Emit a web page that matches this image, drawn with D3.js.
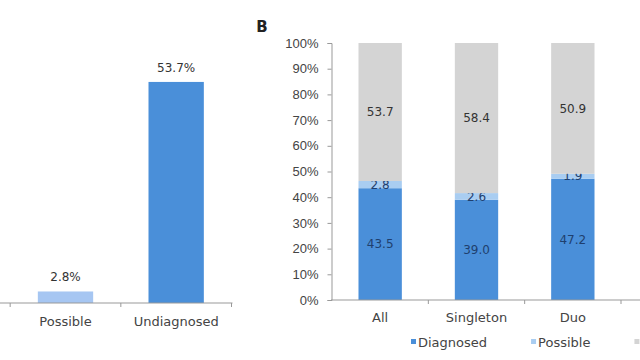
<!DOCTYPE html>
<html>
<head>
<meta charset="utf-8">
<script src="https://cdn.jsdelivr.net/npm/d3@7"></script>
<style>
body { margin: 0; background: #fff; }
svg { display: block; font-family: "DejaVu Sans", Arial, sans-serif; }
.tick text, .cat, .legend text { fill: #444; font-size: 13px; }
.val { font-size: 12px; }
</style>
</head>
<body>
<svg width="640" height="360"></svg>
<script>
// panel A data
const catsA = ["Diagnosed", "Possible", "Undiagnosed"]
const valsA = [43.5, 2.8, 53.7]

// panel B data
const catsB = ["All", "Singleton", "Duo"]
const diagnosed = [43.5, 39.0, 47.2]
const possible = [2.8, 2.6, 1.9]
const undiagnosed = [53.7, 58.4, 50.9]
const yTicksB = [0, 10, 20, 30, 40, 50, 60, 70, 80, 90, 100]
const legendLabels = ["Diagnosed", "Possible", "Undiagnosed"]

const colors = { diag: "#4a8fd9", poss: "#a9cdf1", und: "#d4d4d4" }

const svg = d3.select("svg")

//---------------- panel A
const xA = d3.scaleBand()
	.domain(catsA)
	.range([-100.5, 231.5])
	.paddingInner(0.5)
	.paddingOuter(0.25)

const yA = d3.scaleLinear()
	.domain([0, 60])
	.range([303, 56])

const gA = svg.append("g")

gA.selectAll("rect.barA")
	.data(catsA)
	.enter()
	.append("rect")
	.attr("class", "barA")
	.attr("x", d => xA(d))
	.attr("y", (d, i) => yA(valsA[i]))
	.attr("width", xA.bandwidth())
	.attr("height", (d, i) => yA(0) - yA(valsA[i]))
	.attr("fill", d => d == "Possible" ? "#a6c6f2" : colors.diag)

gA.selectAll("text.valA")
	.data(catsA)
	.enter()
	.append("text")
	.attr("class", "val")
	.attr("x", d => xA(d) + xA.bandwidth() / 2)
	.attr("y", (d, i) => yA(valsA[i]) - 10)
	.attr("text-anchor", "middle")
	.attr("fill", "#333")
	.text((d, i) => valsA[i].toFixed(1) + "%")

// baseline with ticks between bands
gA.append("line")
	.attr("x1", xA.range()[0]).attr("x2", xA.range()[1] + 1)
	.attr("y1", yA(0)).attr("y2", yA(0))
	.attr("stroke", "#999")

gA.selectAll("line.tickA")
	.data(catsA)
	.enter()
	.append("line")
	.attr("x1", d => xA(d) + xA.bandwidth() + xA.step() * xA.paddingInner() / 2)
	.attr("x2", d => xA(d) + xA.bandwidth() + xA.step() * xA.paddingInner() / 2)
	.attr("y1", yA(0)).attr("y2", yA(0) + 4)
	.attr("stroke", "#999")

gA.selectAll("text.catA")
	.data(catsA)
	.enter()
	.append("text")
	.attr("class", "cat")
	.attr("x", d => xA(d) + xA.bandwidth() / 2)
	.attr("y", yA(0) + 23)
	.attr("text-anchor", "middle")
	.text(d => d)

//---------------- panel B
const xB = d3.scaleBand()
	.domain(catsB)
	.range([332, 621])
	.paddingInner(0.55)
	.paddingOuter(0.275)

const yB = d3.scaleLinear()
	.domain([0, 100])
	.range([300, 43])

const stackData = catsB.map((c, i) => ({ cat: c, diag: diagnosed[i], poss: possible[i], und: undiagnosed[i] }))
const series = d3.stack().keys(["diag", "poss", "und"])(stackData)

svg.append("text")
	.attr("x", 262)
	.attr("y", 32)
	.attr("text-anchor", "middle")
	.attr("font-weight", "bold")
	.attr("font-size", "15px")
	.attr("fill", "#222")
	.text("B")

// y axis
svg.append("g")
	.attr("transform", "translate(331.5,0)")
	.call(d3.axisLeft(yB).tickValues(yTicksB).tickSize(4).tickFormat(d => d + "%"))
	.call(g => g.selectAll("path, line").attr("stroke", "#999"))
	.call(g => g.selectAll("text").attr("x", -13))

const layers = svg.selectAll("g.layer")
	.data(series)
	.enter()
	.append("g")
	.attr("class", "layer")
	.attr("fill", d => colors[d.key])

layers.selectAll("rect")
	.data(d => d)
	.enter()
	.append("rect")
	.attr("x", d => xB(d.data.cat))
	.attr("y", d => yB(d[1]))
	.attr("width", xB.bandwidth())
	.attr("height", d => yB(d[0]) - yB(d[1]))

layers.selectAll("text")
	.data(d => d.map(p => ({ p: p, key: d.key })))
	.enter()
	.append("text")
	.attr("class", "val")
	.attr("x", d => xB(d.p.data.cat) + xB.bandwidth() / 2)
	.attr("y", d => yB((d.p[0] + d.p[1]) / 2))
	.attr("dy", "0.35em")
	.attr("text-anchor", "middle")
	.attr("fill", d => d.key == "und" ? "#333" : "#1f3f6e")
	.text(d => d.p.data[d.key].toFixed(1))

// x baseline, runs one more band to the edge
svg.append("line")
	.attr("x1", xB.range()[0] - 1).attr("x2", xB.range()[1] + xB.step())
	.attr("y1", yB(0)).attr("y2", yB(0))
	.attr("stroke", "#999")

svg.selectAll("line.tickB")
	.data(catsB)
	.enter()
	.append("line")
	.attr("x1", d => xB(d) + xB.bandwidth() + xB.step() * xB.paddingInner() / 2)
	.attr("x2", d => xB(d) + xB.bandwidth() + xB.step() * xB.paddingInner() / 2)
	.attr("y1", yB(0)).attr("y2", yB(0) + 4)
	.attr("stroke", "#999")

svg.selectAll("text.catB")
	.data(catsB)
	.enter()
	.append("text")
	.attr("class", "cat")
	.attr("x", d => xB(d) + xB.bandwidth() / 2)
	.attr("y", yB(0) + 22)
	.attr("text-anchor", "middle")
	.text(d => d)

// legend, items laid out by text width
const legend = svg.selectAll("g.legend")
	.data(legendLabels)
	.enter()
	.append("g")
	.attr("class", "legend")

legend.append("rect")
	.attr("x", 0).attr("y", -3)
	.attr("width", 5).attr("height", 5)
	.attr("fill", (d, i) => [colors.diag, colors.poss, colors.und][i])

legend.append("text")
	.attr("x", 7)
	.attr("dy", "0.35em")
	.text(d => d)

let lx = 411
legend.each(function () {
	d3.select(this).attr("transform", `translate(${lx},342)`)
	lx += 7 + d3.select(this).select("text").node().getComputedTextLength() + 44
})
</script>
</body>
</html>
